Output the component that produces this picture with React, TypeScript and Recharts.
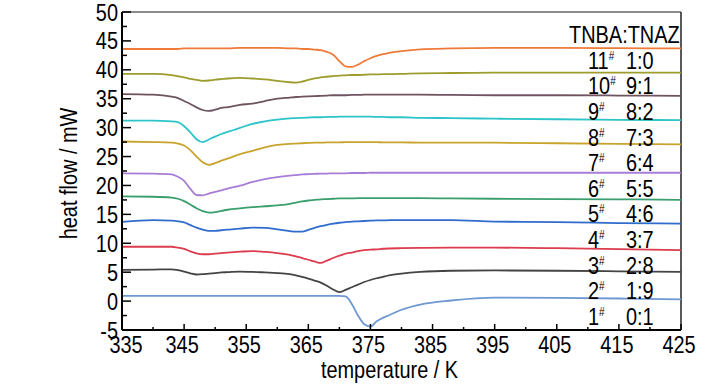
import { LineChart, Line, XAxis, YAxis, ReferenceLine, Legend } from 'recharts'

// temperature grid (K)
const temps = [
  335, 340, 343, 344, 345, 346, 347, 348, 349, 350, 351, 352,
  354, 356, 358, 360, 362,
  363, 364, 365, 366, 367, 368, 369, 370, 371, 372, 373, 374, 375, 376, 377, 378,
  380, 383, 388, 395, 405, 415, 425,
]

// heat flow (mW), one array per sample
const s1 = [
  0.9, 0.9, 0.9, 0.9, 0.9, 0.9, 0.9, 0.9, 0.9, 0.9, 0.9, 0.9,
  0.9, 0.9, 0.9, 0.9, 0.9,
  0.9, 0.9, 0.9, 0.9, 0.9, 0.9, 0.9, 0.9, 0.8, -0.5, -2.5, -4.0, -4.4, -3.5, -2.9, -2.45,
  -1.5, -0.6, 0.1, 0.6, 0.55, 0.45, 0.3,
]
const s2 = [
  5.4, 5.45, 5.5, 5.35, 5.1, 4.8, 4.6, 4.65, 4.75, 4.85, 4.95, 5.0,
  5.1, 5.05, 4.95, 4.85, 4.65,
  4.45, 4.2, 3.9, 3.55, 3.2, 2.65, 2.0, 1.55, 1.95, 2.4, 2.85, 3.3, 3.65, 3.95, 4.2, 4.45,
  4.75, 5.05, 5.25, 5.3, 5.25, 5.15, 5.05,
]
const s3 = [
  9.4, 9.4, 9.4, 9.25, 9.05, 8.6, 8.25, 8.1, 8.1, 8.2, 8.3, 8.4,
  8.55, 8.65, 8.5, 8.3, 8.0,
  7.75, 7.45, 7.15, 6.85, 6.6, 7.0, 7.45, 7.85, 8.2, 8.4, 8.65, 8.8, 8.9, 8.95, 9.05, 9.1,
  9.15, 9.2, 9.25, 9.25, 9.15, 9.0, 8.8,
]
const s4 = [
  13.7, 14.0, 13.9, 13.8, 13.6, 13.15, 12.7, 12.35, 12.15, 12.15, 12.25, 12.35,
  12.55, 12.7, 12.65, 12.4, 12.1,
  12.0, 12.0, 12.3, 12.65, 12.95, 13.2, 13.4, 13.55, 13.65, 13.75, 13.8, 13.85, 13.9, 13.95, 13.95, 14.0,
  14.0, 14.0, 14.0, 13.75, 13.65, 13.5, 13.4,
]
const s5 = [
  18.1, 18.05, 17.9, 17.7, 17.3, 16.7, 16.05, 15.55, 15.3, 15.4, 15.6, 15.8,
  16.05, 16.25, 16.4, 16.55, 16.8,
  17.05, 17.25, 17.4, 17.5, 17.6, 17.65, 17.7, 17.75, 17.75, 17.75, 17.8, 17.8, 17.8, 17.8, 17.8, 17.8,
  17.8, 17.8, 17.75, 17.7, 17.65, 17.6, 17.5,
]
const s6 = [
  22.1, 22.05, 21.9, 21.5, 20.8, 19.4, 18.35, 18.3, 18.6, 18.9, 19.15, 19.45,
  19.95, 20.6, 21.1, 21.45, 21.7,
  21.8, 21.9, 21.95, 22.0, 22.05, 22.05, 22.1, 22.1, 22.1, 22.15, 22.15, 22.15, 22.2, 22.2, 22.2, 22.2,
  22.2, 22.2, 22.2, 22.2, 22.2, 22.2, 22.2,
]
const s7 = [
  27.6, 27.5, 27.4, 27.25, 26.9, 26.1, 25.0, 24.0, 23.55, 23.85, 24.3, 24.65,
  25.4, 26.0, 26.6, 27.0, 27.2,
  27.25, 27.3, 27.35, 27.4, 27.4, 27.45, 27.45, 27.45, 27.5, 27.5, 27.5, 27.5, 27.5, 27.5, 27.45, 27.45,
  27.45, 27.4, 27.4, 27.4, 27.3, 27.2, 27.1,
]
const s8 = [
  31.2, 31.2, 31.1, 30.95, 30.25, 29.2, 28.0, 27.5, 27.95, 28.45, 28.9, 29.25,
  29.95, 30.65, 31.1, 31.4, 31.6,
  31.65, 31.7, 31.75, 31.8, 31.8, 31.85, 31.85, 31.9, 31.9, 31.9, 31.9, 31.9, 31.9, 31.85, 31.85, 31.8,
  31.8, 31.7, 31.65, 31.55, 31.45, 31.35, 31.3,
]
const s9 = [
  35.8, 35.7, 35.35, 35.1, 34.6, 34.1, 33.5, 33.05, 32.9, 33.1, 33.4, 33.55,
  33.95, 34.15, 34.6, 35.0, 35.2,
  35.3, 35.35, 35.4, 35.45, 35.5, 35.55, 35.6, 35.6, 35.6, 35.65, 35.65, 35.7, 35.7, 35.7, 35.7, 35.7,
  35.7, 35.7, 35.65, 35.6, 35.6, 35.55, 35.5,
]
const s10 = [
  39.3, 39.3, 39.1, 38.9, 38.7, 38.45, 38.25, 38.1, 38.15, 38.3, 38.4, 38.5,
  38.6, 38.5, 38.35, 38.1, 37.85,
  37.8, 37.95, 38.25, 38.5, 38.7, 38.8, 38.9, 39.0, 39.05, 39.1, 39.1, 39.15, 39.2, 39.2, 39.25, 39.25,
  39.3, 39.4, 39.45, 39.5, 39.5, 39.5, 39.5,
]
const s11 = [
  43.6, 43.6, 43.6, 43.6, 43.7, 43.7, 43.7, 43.7, 43.7, 43.7, 43.7, 43.7,
  43.8, 43.8, 43.8, 43.8, 43.7,
  43.7, 43.6, 43.6, 43.5, 43.4, 43.1, 42.6, 41.5, 40.6, 40.5, 40.9, 41.5, 42.0, 42.4, 42.7, 42.95,
  43.25, 43.55, 43.7, 43.8, 43.8, 43.75, 43.7,
]

const seriesValues = [s1, s2, s3, s4, s5, s6, s7, s8, s9, s10, s11]
const sampleNames = ['1', '2', '3', '4', '5', '6', '7', '8', '9', '10', '11']
const ratios = ['0:1', '1:9', '2:8', '3:7', '4:6', '5:5', '6:4', '7:3', '8:2', '9:1', '1:0']
const colors = [
  '#6d98d2', '#444444', '#dc3c4e', '#2f6ccc', '#3a9e6e', '#a77dd8',
  '#c9a42c', '#2cc4c9', '#6e5461', '#9d9c2c', '#ee7b3a',
]

const xTicks = [335, 340, 345, 350, 355, 360, 365, 370, 375, 380, 385, 390, 395, 400, 405, 410, 415, 420, 425]
const yTicks = [-5, -2.5, 0, 2.5, 5, 7.5, 10, 12.5, 15, 17.5, 20, 22.5, 25, 27.5, 30, 32.5, 35, 37.5, 40, 42.5, 45, 47.5, 50]

const rows = temps.map((t, i) => {
  const r: Record<string, number> = { t }
  seriesValues.forEach((s, k) => {
    r['s' + (k + 1)] = s[i]
  })
  return r
})

// no Arial Narrow available: squeeze Liberation Sans horizontally instead
const FONT = "'Liberation Sans', Arial, sans-serif"
const SQUEEZE = 0.83

function NarrowText({ x, y, anchor = 'middle', rotate = 0, children }: any) {
  return (
    <text
      x={0}
      y={0}
      transform={`translate(${x}, ${y}) rotate(${rotate}) scale(${SQUEEZE}, 1)`}
      textAnchor={anchor}
      fontFamily={FONT}
      fontSize={24}
      fill="#000"
    >
      {children}
    </text>
  )
}

function XTick(props: any) {
  const { x, y, payload } = props
  const v = payload.value
  const major = (v - 335) % 10 === 0
  return (
    <g>
      <line x1={x} x2={x} y1={y} y2={y - (major ? 6 : 3)} stroke="#000" strokeWidth={1.5} />
      {major && (
        <NarrowText x={x + (v === 335 ? 4 : -2)} y={y + 23}>
          {v}
        </NarrowText>
      )}
    </g>
  )
}

function YTick(props: any) {
  const { x, y, payload } = props
  const v = payload.value
  const major = v % 5 === 0
  return (
    <g>
      <line x1={x} x2={x + (major ? 9 : 5)} y1={y} y2={y} stroke="#000" strokeWidth={1.5} />
      {major && (
        <NarrowText x={x - 4} y={y + 8.5} anchor="end">
          {v}
        </NarrowText>
      )}
    </g>
  )
}

const xTitle = (p: any) => {
  const vb = p?.viewBox ?? { x: 122, y: 330, width: 559, height: 60 }
  return (
    <NarrowText x={vb.x + vb.width / 2 - 12} y={vb.y + 48}>
      temperature / K
    </NarrowText>
  )
}

const yTitle = (p: any) => {
  const vb = p?.viewBox ?? { x: 0, y: 12, width: 122, height: 318 }
  return (
    <NarrowText x={vb.x + 77} y={vb.y + vb.height / 2 + 2.5} rotate={-90}>
      heat flow / mW
    </NarrowText>
  )
}

function SampleLegend() {
  const order = sampleNames.map((_, i) => sampleNames.length - 1 - i)
  return (
    <div
      style={{
        fontFamily: FONT,
        fontSize: 24,
        lineHeight: '25.64px',
        color: '#000',
        whiteSpace: 'nowrap',
        transform: `scaleX(${SQUEEZE})`,
        transformOrigin: 'left top',
      }}
    >
      <div>TNBA:TNAZ</div>
      {order.map((k) => (
        <div key={k} style={{ paddingLeft: 19 / SQUEEZE }}>
          <span style={{ display: 'inline-block', width: 38 / SQUEEZE }}>
            {sampleNames[k]}
            <span style={{ fontSize: 12, lineHeight: '12px', verticalAlign: 'top', position: 'relative', top: 2 }}>#</span>
          </span>
          {ratios[k]}
        </div>
      ))}
    </div>
  )
}

export default function App() {
  return (
    <div style={{ position: 'fixed', left: 0, top: 0, width: 728, height: 390, background: '#fff' }}>
      <LineChart width={728} height={390} data={rows} margin={{ top: 12, right: 47, bottom: 0, left: 0 }}>
        <XAxis
          dataKey="t"
          type="number"
          domain={[335, 425]}
          ticks={xTicks}
          interval={0}
          height={60}
          tickSize={0}
          tickMargin={0}
          tickLine={false}
          tick={<XTick />}
          axisLine={{ stroke: '#000', strokeWidth: 2 }}
          label={{ content: xTitle }}
          allowDataOverflow
        />
        <YAxis
          type="number"
          domain={[-5, 50]}
          ticks={yTicks}
          interval={0}
          width={122}
          tickSize={0}
          tickMargin={0}
          tickLine={false}
          tick={<YTick />}
          axisLine={{ stroke: '#000', strokeWidth: 2 }}
          label={{ content: yTitle }}
          allowDataOverflow
        />
        <ReferenceLine y={50} stroke="#666" strokeWidth={1.5} />
        <ReferenceLine x={425} stroke="#222" strokeWidth={1.5} />
        {seriesValues.map((_, k) => (
          <Line
            key={k}
            type="monotone"
            dataKey={'s' + (k + 1)}
            stroke={colors[k]}
            strokeWidth={1.8}
            dot={false}
            activeDot={false}
            isAnimationActive={false}
          />
        ))}
        <Legend
          layout="vertical"
          align="center"
          verticalAlign="middle"
          wrapperStyle={{ position: 'absolute', left: 569, top: 22, width: 'auto', height: 'auto' }}
          content={() => <SampleLegend />}
        />
      </LineChart>
    </div>
  )
}
